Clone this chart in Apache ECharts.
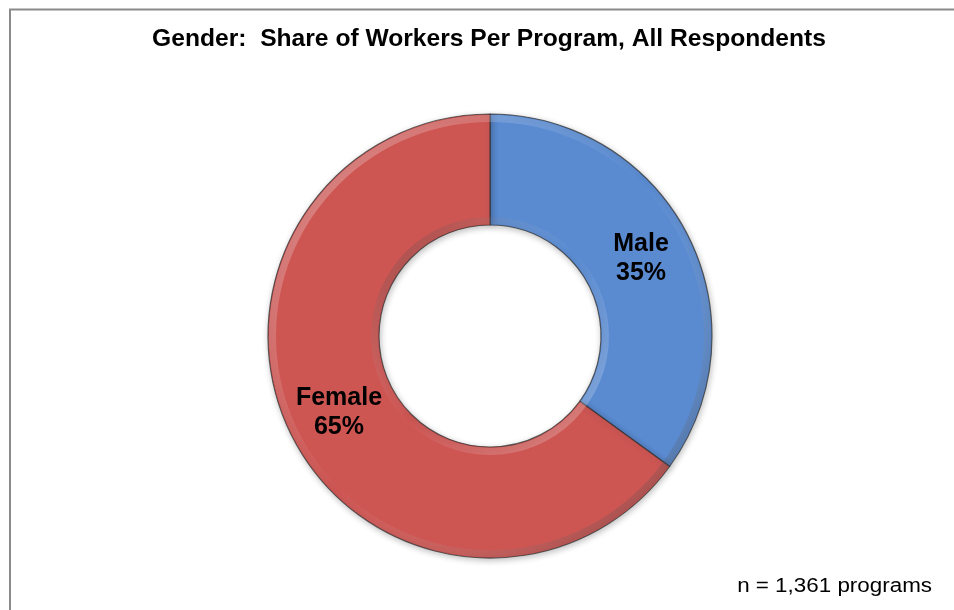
<!DOCTYPE html>
<html>
<head>
<meta charset="utf-8">
<script src="https://cdn.jsdelivr.net/npm/echarts@6/dist/echarts.min.js"></script>
<style>
  html, body { margin: 0; padding: 0; background: #fff; }
  #chart { width: 954px; height: 610px; }
</style>
</head>
<body>
<div id="chart"></div>
<script>
// Share of workers by gender, all responding programs
const categories = ['Male', 'Female'];
const shares = [35, 65];
const sliceColors = ['#5A8BD1', '#CD5653'];
const titleText = 'Gender:  Share of Workers Per Program, All Respondents';
const noteText = 'n = 1,361 programs';

const chart = echarts.init(document.getElementById('chart'), null, { renderer: 'canvas' });

const ringCenter = [490, 336];
const ringData = categories.map((name, i) => ({
  name: name,
  value: shares[i],
  itemStyle: { color: sliceColors[i] }
}));

// thin bevel overlays that give the ring its raised look
function bevelRing(radius, topColor, bottomColor) {
  return {
    type: 'pie',
    silent: true,
    center: ringCenter,
    radius: radius,
    startAngle: 90,
    clockwise: true,
    label: { show: false },
    labelLine: { show: false },
    data: [{ value: 1, itemStyle: {
      color: new echarts.graphic.LinearGradient(0, 0, 1, 1, [
        { offset: 0, color: topColor },
        { offset: 0.5, color: 'rgba(255,255,255,0)' },
        { offset: 1, color: bottomColor }
      ])
    } }],
    z: 3
  };
}

chart.setOption({
  animation: false,
  backgroundColor: '#ffffff',
  graphic: [
    {
      type: 'polyline',
      shape: { points: [[10, 620], [10, 9.5], [960, 9.5]] },
      style: { stroke: '#8a8a8a', lineWidth: 2, fill: null },
      z: 10
    },
    {
      type: 'text',
      x: 489,
      y: 40,
      scaleX: 1.07,
      style: {
        text: titleText,
        font: 'bold 23px "Liberation Sans", Arial, sans-serif',
        fill: '#000',
        align: 'center',
        verticalAlign: 'middle'
      }
    },
    {
      type: 'text',
      x: 932,
      y: 586,
      scaleX: 1.12,
      style: {
        text: noteText,
        font: '20px "Liberation Sans", Arial, sans-serif',
        fill: '#000',
        align: 'right',
        verticalAlign: 'middle'
      }
    }
  ],
  series: [
    {
      type: 'pie',
      center: ringCenter,
      radius: [111, 222],
      startAngle: 90,
      clockwise: true,
      avoidLabelOverlap: false,
      itemStyle: {
        borderColor: 'rgba(50,50,50,0.75)',
        borderWidth: 1.2,
        shadowBlur: 6,
        shadowColor: 'rgba(0,0,0,0.25)',
        shadowOffsetX: 1,
        shadowOffsetY: 2
      },
      label: {
        show: true,
        position: 'inside',
        formatter: p => p.name + '\n' + p.value + '%',
        fontFamily: 'Liberation Sans, Arial, sans-serif',
        fontWeight: 'bold',
        fontSize: 25,
        lineHeight: 29,
        color: '#000'
      },
      labelLine: { show: false },
      data: ringData,
      z: 2
    },
    bevelRing([214, 221], 'rgba(255,255,255,0.35)', 'rgba(0,0,0,0.35)'),
    bevelRing([112, 119], 'rgba(0,0,0,0.3)', 'rgba(255,255,255,0.3)')
  ]
});
</script>
</body>
</html>
